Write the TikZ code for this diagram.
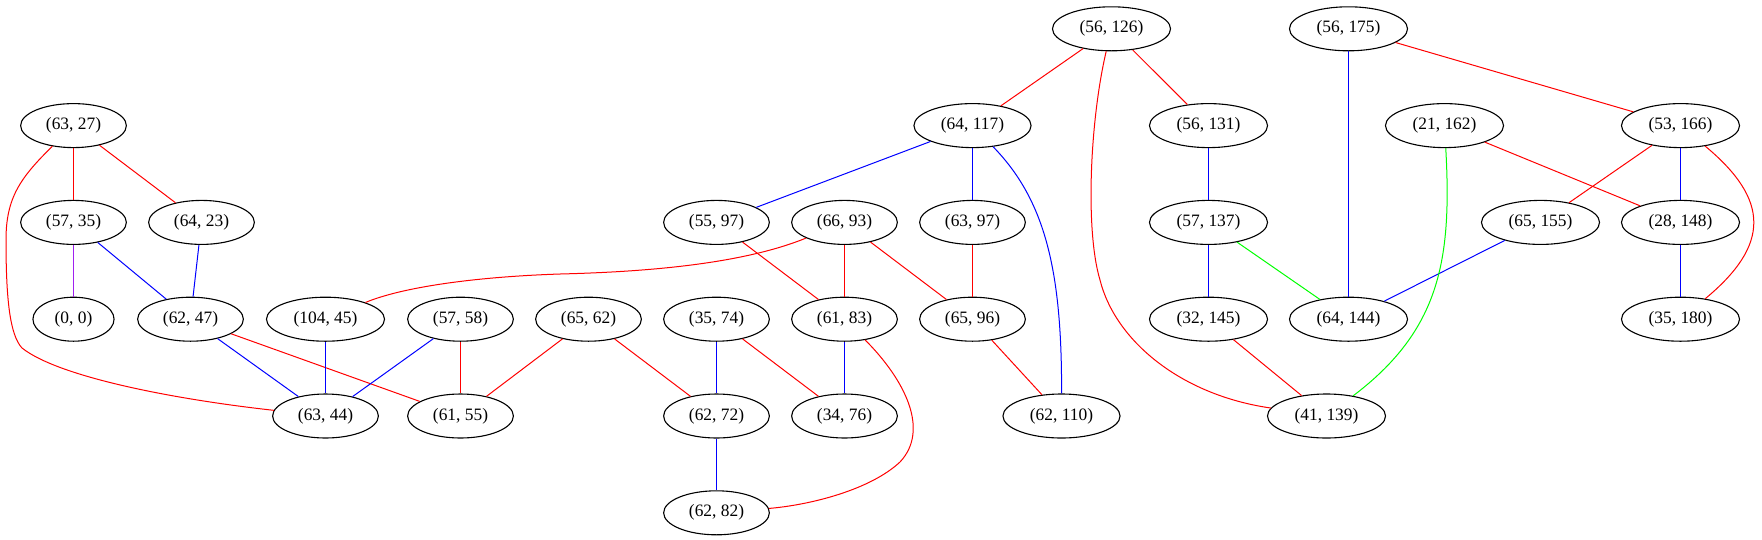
\documentclass[tikz,border=0pt]{standalone}
\usepackage{fontspec}
\setmainfont{Liberation Serif}
\usetikzlibrary{shapes.geometric}
\definecolor{gvred}{RGB}{255,0,0}
\definecolor{gvblue}{RGB}{0,0,255}
\definecolor{gvgreen}{RGB}{0,255,0}
\definecolor{gvpurple}{RGB}{160,32,240}
\tikzset{
  gvnode/.style={ellipse, draw=black, line width=1.1pt, inner xsep=9.84pt, inner ysep=2pt,
    minimum height=44pt, font=\fontsize{17.4}{20}\selectfont},
  re/.style={draw=gvred, line width=1pt},
  be/.style={draw=gvblue, line width=1pt},
  ge/.style={draw=gvgreen, line width=1pt},
  pe/.style={draw=gvpurple, line width=1pt}
}
\begin{document}
\begin{tikzpicture}[x=1pt,y=-1pt]
\useasboundingbox (0,0) rectangle (1762,539);
% row 0
\node[gvnode] (a56126) at (1111.5,28.8) {(56, 126)};
\node[gvnode] (a56175) at (1348.5,28.8) {(56, 175)};
% row 1
\node[gvnode] (a6327) at (73.5,125.6) {(63, 27)};
\node[gvnode] (a64117) at (972.5,125.6) {(64, 117)};
\node[gvnode] (a56131) at (1208.5,125.6) {(56, 131)};
\node[gvnode] (a21162) at (1444.5,125.6) {(21, 162)};
\node[gvnode] (a53166) at (1680.5,125.6) {(53, 166)};
% row 2
\node[gvnode] (a5735) at (73.5,222.4) {(57, 35)};
\node[gvnode] (a6423) at (201.5,222.4) {(64, 23)};
\node[gvnode] (a5597) at (716.5,222.4) {(55, 97)};
\node[gvnode] (a6693) at (844.5,222.4) {(66, 93)};
\node[gvnode] (a6397) at (972.5,222.4) {(63, 97)};
\node[gvnode] (a57137) at (1208.5,222.4) {(57, 137)};
\node[gvnode] (a65155) at (1540.5,222.4) {(65, 155)};
\node[gvnode] (a28148) at (1680.5,222.4) {(28, 148)};
% row 3
\node[gvnode] (a00) at (73.5,319.2) {(0, 0)};
\node[gvnode] (a6247) at (190.5,319.2) {(62, 47)};
\node[gvnode] (a10445) at (325.5,319.2) {(104, 45)};
\node[gvnode] (a5758) at (460.5,319.2) {(57, 58)};
\node[gvnode] (a6562) at (588.5,319.2) {(65, 62)};
\node[gvnode] (a3574) at (716.5,319.2) {(35, 74)};
\node[gvnode] (a6183) at (844.5,319.2) {(61, 83)};
\node[gvnode] (a6596) at (972.5,319.2) {(65, 96)};
\node[gvnode] (a32145) at (1208.5,319.2) {(32, 145)};
\node[gvnode] (a64144) at (1348.5,319.2) {(64, 144)};
\node[gvnode] (a35180) at (1680.5,319.2) {(35, 180)};
% row 4
\node[gvnode] (a6344) at (325.5,416) {(63, 44)};
\node[gvnode] (a6155) at (460.5,416) {(61, 55)};
\node[gvnode] (a6272) at (716.5,416) {(62, 72)};
\node[gvnode] (a3476) at (844.5,416) {(34, 76)};
\node[gvnode] (a62110) at (1061.5,416) {(62, 110)};
\node[gvnode] (a41139) at (1326.5,416) {(41, 139)};
% row 5
\node[gvnode] (a6282) at (716.5,512.8) {(62, 82)};

% red edges
\draw[re] (a56126) -- (a64117);
\draw[re] (a56126) -- (a56131);
\draw[re] (a56126) .. controls (1090,120) and (1085,230) .. (1100,280) .. controls (1115,340) and (1180,395) .. (a41139);
\draw[re] (a56175) -- (a53166);
\draw[re] (a21162) -- (a28148);
\draw[re] (a53166) -- (a65155);
\draw[re] (a53166) .. controls (1770,200) and (1770,245) .. (a35180);
\draw[re] (a6327) -- (a5735);
\draw[re] (a6327) -- (a6423);
\draw[re] (a6327) .. controls (20,178) and (6,198) .. (6,240) .. controls (6,300) and (10,335) .. (22,348) .. controls (60,378) and (180,400) .. (a6344);
\draw[re] (a6247) -- (a6155);
\draw[re] (a5758) -- (a6155);
\draw[re] (a6562) -- (a6155);
\draw[re] (a6562) -- (a6272);
\draw[re] (a3574) -- (a3476);
\draw[re] (a6693) .. controls (740,265) and (640,272) .. (560,274) .. controls (470,277) and (400,288) .. (a10445);
\draw[re] (a6693) -- (a6183);
\draw[re] (a6693) -- (a6596);
\draw[re] (a5597) -- (a6183);
\draw[re] (a6397) -- (a6596);
\draw[re] (a6596) -- (a62110);
\draw[re] (a6183) .. controls (905,380) and (930,430) .. (900,462) .. controls (870,490) and (810,505) .. (a6282);
\draw[re] (a32145) -- (a41139);
% blue edges
\draw[be] (a64117) -- (a5597);
\draw[be] (a64117) -- (a6397);
\draw[be] (a64117) .. controls (1045,200) and (1062,270) .. (a62110);
\draw[be] (a56131) -- (a57137);
\draw[be] (a56175) -- (a64144);
\draw[be] (a53166) -- (a28148);
\draw[be] (a65155) -- (a64144);
\draw[be] (a28148) -- (a35180);
\draw[be] (a57137) -- (a32145);
\draw[be] (a5735) -- (a6247);
\draw[be] (a6423) -- (a6247);
\draw[be] (a6247) -- (a6344);
\draw[be] (a10445) -- (a6344);
\draw[be] (a5758) -- (a6344);
\draw[be] (a3574) -- (a6272);
\draw[be] (a6183) -- (a3476);
\draw[be] (a6272) -- (a6282);
% green edges
\draw[ge] (a57137) -- (a64144);
\draw[ge] (a21162) .. controls (1452,260) and (1440,330) .. (a41139);
% purple edge
\draw[pe] (a5735) -- (a00);
\end{tikzpicture}
\end{document}
